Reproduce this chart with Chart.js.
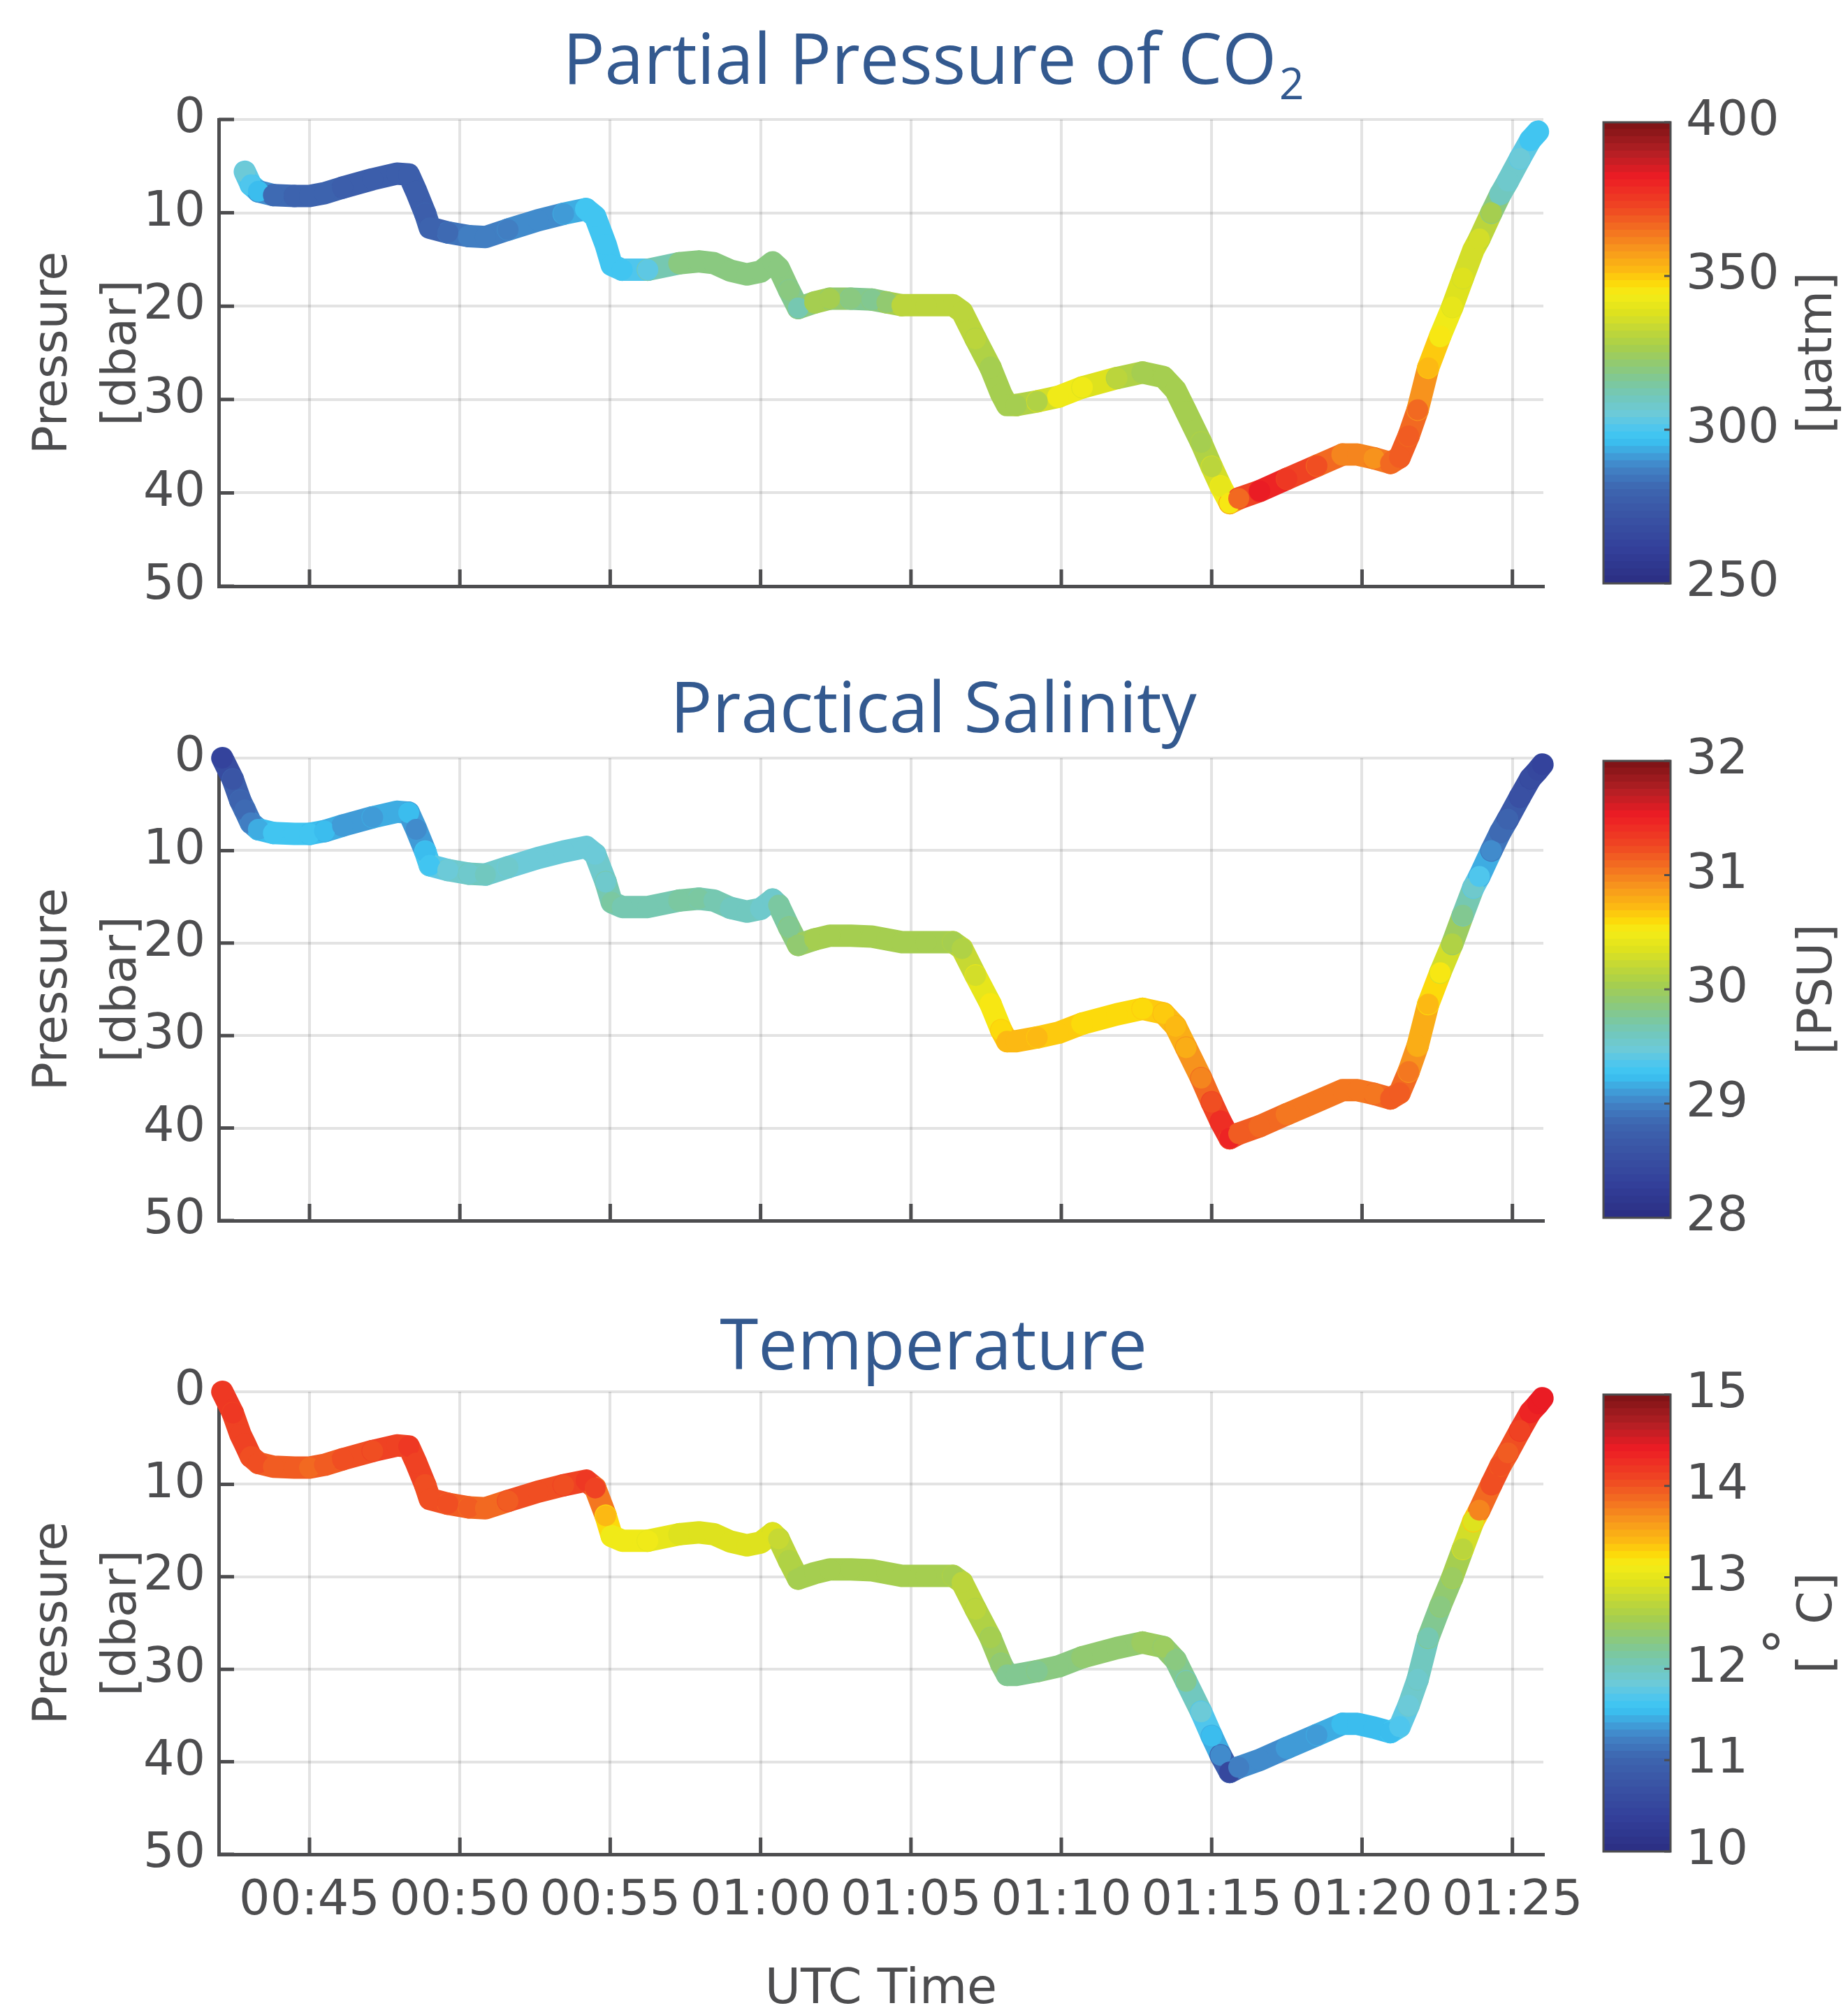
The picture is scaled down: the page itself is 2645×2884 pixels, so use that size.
<!DOCTYPE html>
<html>
<head>
<meta charset="utf-8">
<script src="https://cdn.jsdelivr.net/npm/chart.js@4.4.1/dist/chart.umd.min.js"></script>
<style>
  html, body { margin: 0; padding: 0; background: #fff; }
  body { width: 2645px; height: 2884px; position: relative; overflow: hidden; }
  canvas { position: absolute; }
</style>
</head>
<body>
<script>
// CTD cast, minutes after 00:00 UTC
const timeMin = [42.10, 42.45, 42.70, 42.85, 43.05, 43.30, 43.80, 44.50, 45.00, 45.50,
  46.10, 47.10, 47.90, 48.30, 48.55, 48.85, 49.00, 49.60, 50.30, 50.85,
  51.60, 52.60, 53.45, 54.20, 54.50, 54.85, 55.05, 55.40, 56.25, 57.30,
  57.95, 58.45, 59.00, 59.55, 60.00, 60.40, 60.60, 60.95, 61.25, 61.80,
  62.30, 63.00, 63.70, 64.20, 64.70, 65.50, 66.40, 66.70, 67.15, 67.65,
  68.00, 68.20, 68.50, 69.20, 69.90, 70.70, 71.85, 72.70, 73.40, 73.80,
  74.15, 74.65, 75.00, 75.30, 75.60, 75.90, 76.60, 77.50, 78.50, 79.35,
  79.85, 80.40, 80.95, 81.25, 81.55, 81.85, 82.20, 82.60, 83.00, 83.35,
  83.70, 83.90, 84.30, 84.60, 84.85, 85.25, 85.60, 85.85, 86.00];

const pressure = [0.0, 2.3, 4.6, 5.6, 7.0, 7.7, 8.1, 8.2, 8.2, 7.9,
  7.3, 6.4, 5.8, 5.9, 7.7, 10.1, 11.6, 12.1, 12.5, 12.6,
  11.8, 10.8, 10.1, 9.6, 10.4, 13.4, 15.6, 16.1, 16.1, 15.4,
  15.2, 15.4, 16.2, 16.6, 16.3, 15.3, 15.9, 18.3, 20.2, 19.6,
  19.2, 19.2, 19.3, 19.6, 19.9, 19.9, 19.9, 20.6, 23.5, 26.6,
  29.4, 30.6, 30.6, 30.2, 29.7, 28.7, 27.7, 27.1, 27.6, 29.0,
  31.3, 34.6, 37.2, 39.3, 41.1, 40.6, 39.8, 38.5, 37.1, 35.9,
  35.9, 36.3, 36.8, 36.2, 33.9, 31.1, 26.6, 23.2, 20.1, 17.0,
  14.0, 12.8, 10.0, 8.0, 6.6, 4.2, 2.2, 1.3, 0.7];

const salinity = [28.35, 28.6, 28.8, 28.85, 28.95, 29.15, 29.25, 29.25, 29.25, 29.2,
  29.1, 29.1, 29.15, 29.2, 29.0, 29.2, 29.3, 29.45, 29.55, 29.6,
  29.5, 29.45, 29.45, 29.45, 29.45, 29.55, 29.7, 29.65, 29.65, 29.72,
  29.72, 29.65, 29.6, 29.6, 29.55, 29.5, 29.7, 29.75, 29.9, 30.05,
  30.05, 30.05, 30.05, 30.05, 30.05, 30.05, 30.05, 30.1, 30.3, 30.5,
  30.6, 30.72, 30.72, 30.7, 30.65, 30.6, 30.58, 30.6, 30.68, 30.72,
  30.8, 30.98, 31.2, 31.4, 31.45, 31.15, 31.1, 31.05, 31.0, 31.0,
  31.0, 31.05, 31.15, 31.15, 31.0, 30.8, 30.7, 30.5, 30.1, 29.8,
  29.5, 29.35, 29.0, 28.85, 28.8, 28.55, 28.45, 28.4, 28.35];

const temperature = [14.2, 14.15, 14.1, 14.1, 14.05, 14.0, 13.95, 13.95, 13.9, 13.95,
  14.0, 14.05, 14.1, 14.15, 14.1, 14.05, 14.05, 14.0, 13.95, 13.85,
  13.95, 14.05, 14.05, 14.15, 14.1, 13.4, 13.1, 13.1, 13.05, 12.95,
  12.95, 12.95, 12.95, 12.95, 12.95, 12.95, 12.8, 12.65, 12.55, 12.55,
  12.55, 12.55, 12.55, 12.55, 12.55, 12.55, 12.55, 12.7, 12.7, 12.55,
  12.4, 12.25, 12.25, 12.25, 12.3, 12.35, 12.35, 12.45, 12.45, 12.3,
  12.2, 11.85, 11.55, 11.3, 10.5, 11.2, 11.3, 11.35, 11.4, 11.5,
  11.55, 11.55, 11.55, 11.7, 11.85, 11.95, 12.1, 12.3, 12.45, 12.7,
  12.95, 13.7, 14.05, 14.0, 13.95, 14.1, 14.3, 14.4, 14.4];

// pCO2 sensor starts/stops a little later than the CTD
const pco2 = [null, null, null, 305, 301, 296, 281, 280, 279, 279,
  278, 278, 277, 277, 277, 278, 279, 281, 286, 287,
  287, 288, 290, 297, 298, 298, 298, 297, 303, 320,
  320, 320, 320, 320, 320, 320, 320, 320, 312, 325,
  327, 318, 317, 322, 332, 332, 332, 332, 332, 327,
  327, 327, 327, 329, 343, 343, 332, 325, 325, 327,
  327, 327, 332, 340, 346, 365, 382, 376, 370, 361,
  361, 360, 365, 368, 368, 366, 352, 345, 340, 337,
  336, 335, 327, 310, 308, 306, 298, 297, null];

const timeTicks = ['00:45', '00:50', '00:55', '01:00', '01:05', '01:10', '01:15', '01:20', '01:25'];
const pressureTicks = [0, 10, 20, 30, 40, 50];
const pco2Ticks = [250, 300, 350, 400];
const salinityTicks = [28, 29, 30, 31, 32];
const temperatureTicks = [10, 11, 12, 13, 14, 15];

// colour map, position 0 = bottom of colour bar
const cmapStops = [
  [0.000, '#2b2e83'], [0.074, '#33409a'], [0.143, '#3a53a4'], [0.205, '#3d66b0'],
  [0.250, '#4283c6'], [0.281, '#40a3dc'], [0.312, '#39c5f3'], [0.335, '#4ec6ee'],
  [0.366, '#6ccad9'], [0.404, '#72c8bb'], [0.442, '#80c894'], [0.473, '#90c974'],
  [0.512, '#a8cf4c'], [0.550, '#c3d836'], [0.588, '#e0e31d'], [0.627, '#f5ec16'],
  [0.650, '#fdd90a'], [0.680, '#fcb913'], [0.726, '#f7941d'], [0.772, '#f26a21'],
  [0.818, '#ef4323'], [0.880, '#ed1c24'], [0.933, '#b41f24'], [1.000, '#7a1315']
];

const AXIS = '#4d4d4f';
const TEXT = '#4d4d4f';
const TITLE = '#33598f';
const GRID = 'rgba(0,0,0,0.11)';
const FONT = "'DejaVu Sans', sans-serif";
const TITLE_FONT = "'Open Sans', sans-serif";
const LEVELS = 64;

const T_MIN = 41.98, T_MAX = 86.03;
const PLOT_LEFT = 313, PLOT_RIGHT = 2209, MAIN_W = 2330;
const CB_LEFT = 2285, CB_W = 360, CB_BAR = 96;

const layout = [
  { top: 0, height: 900, plotTop: 171, plotBottom: 839, titleY: 120 },
  { top: 900, height: 910, plotTop: 1085, plotBottom: 1747, titleY: 1048 },
  { top: 1810, height: 1074, plotTop: 1992, plotBottom: 2654, titleY: 1960 }
];

const panels = [
  { title: 'Partial Pressure of CO', sub: '2', values: pco2, min: 250, max: 400, ticks: pco2Ticks, unit: '[µatm]' },
  { title: 'Practical Salinity', sub: '', values: salinity, min: 28, max: 32, ticks: salinityTicks, unit: '[PSU]' },
  { title: 'Temperature', sub: '', values: temperature, min: 10, max: 15, ticks: temperatureTicks, unit: '[°C]' }
];

function hexRgb(h) {
  return [1, 3, 5].map(i => parseInt(h.slice(i, i + 2), 16));
}

function cmap(t) {
  for (let i = 1; i < cmapStops.length; i++) {
    const [p1, c1] = cmapStops[i];
    if (t <= p1) {
      const [p0, c0] = cmapStops[i - 1];
      const f = (t - p0) / (p1 - p0);
      const a = hexRgb(c0), b = hexRgb(c1);
      return `rgb(${a.map((v, k) => Math.round(v + (b[k] - v) * f)).join(',')})`;
    }
  }
  return cmapStops[cmapStops.length - 1][1];
}

function colorFor(v, min, max) {
  const n = (v - min) / (max - min);
  const lvl = Math.min(LEVELS - 1, Math.max(0, Math.floor(n * LEVELS)));
  return cmap((lvl + 0.5) / LEVELS);
}

function toMinutes(s) {
  const [h, m] = s.split(':').map(Number);
  return h * 60 + m;
}

function addCanvas(left, top, w, h) {
  const c = document.createElement('canvas');
  c.width = w;
  c.height = h;
  c.style.left = left + 'px';
  c.style.top = top + 'px';
  c.style.width = w + 'px';
  c.style.height = h + 'px';
  document.body.appendChild(c);
  return c;
}

// tick marks pointing into the plot, like the original
const inwardTicks = {
  id: 'inwardTicks',
  beforeDatasetsDraw(chart) {
    const { ctx, chartArea: a, scales: { x, y } } = chart;
    ctx.save();
    ctx.strokeStyle = AXIS;
    ctx.lineWidth = 5;
    ctx.beginPath();
    x.ticks.forEach(t => {
      const px = x.getPixelForValue(t.value);
      ctx.moveTo(px, a.bottom);
      ctx.lineTo(px, a.bottom - 24);
    });
    y.ticks.forEach(t => {
      const py = y.getPixelForValue(t.value);
      ctx.moveTo(a.left, py);
      ctx.lineTo(a.left + 22, py);
    });
    ctx.stroke();
    ctx.restore();
  }
};

const panelTitle = {
  id: 'panelTitle',
  afterDraw(chart, args, o) {
    const ctx = chart.ctx;
    const size = 100;
    ctx.save();
    ctx.fillStyle = TITLE;
    ctx.textAlign = 'left';
    ctx.textBaseline = 'alphabetic';
    ctx.font = `${size}px ${TITLE_FONT}`;
    const w1 = ctx.measureText(o.text).width;
    ctx.font = `${Math.round(size * 0.62)}px ${TITLE_FONT}`;
    const w2 = o.sub ? ctx.measureText(o.sub).width + 4 : 0;
    const x0 = o.x - (w1 + w2) / 2;
    ctx.font = `${size}px ${TITLE_FONT}`;
    ctx.fillText(o.text, x0, o.y);
    if (o.sub) {
      ctx.font = `${Math.round(size * 0.62)}px ${TITLE_FONT}`;
      ctx.fillText(o.sub, x0 + w1 + 4, o.y + size * 0.22);
    }
    ctx.restore();
  }
};

// frame, small ticks and rotated unit label of a colour bar
const cbFrame = {
  id: 'cbFrame',
  afterDatasetsDraw(chart, args, o) {
    const { ctx, chartArea: a, scales: { y } } = chart;
    ctx.save();
    ctx.strokeStyle = AXIS;
    ctx.lineWidth = 3;
    ctx.strokeRect(a.left, a.top, a.right - a.left, a.bottom - a.top);
    ctx.beginPath();
    y.ticks.forEach(t => {
      const py = y.getPixelForValue(t.value);
      ctx.moveTo(a.right, py);
      ctx.lineTo(a.right - 9, py);
    });
    ctx.stroke();

    const size = 68;
    ctx.font = `${size}px ${FONT}`;
    ctx.fillStyle = TEXT;
    ctx.translate(o.x, (a.top + a.bottom) / 2);
    ctx.rotate(-Math.PI / 2);
    ctx.textBaseline = 'middle';
    ctx.textAlign = 'left';
    const parts = o.label.split(/(°)/).filter(s => s);
    const widths = parts.map(s => s === '°' ? ctx.measureText(s).width * 1.3 : ctx.measureText(s).width);
    let x = -widths.reduce((s, w) => s + w, 0) / 2;
    parts.forEach((s, i) => {
      if (s === '°') {
        ctx.save();
        ctx.font = `${Math.round(size * 1.15)}px ${FONT}`;
        ctx.fillText(s, x, -size * 0.62);
        ctx.restore();
      } else {
        ctx.fillText(s, x, 0);
      }
      x += widths[i];
    });
    ctx.restore();
  }
};

function mainChart(i, p) {
  const L = layout[i];
  const last = i === layout.length - 1;
  const canvas = addCanvas(0, L.top, MAIN_W, L.height);
  const pts = [];
  timeMin.forEach((t, k) => {
    if (p.values[k] !== null) pts.push({ x: t, y: pressure[k], v: p.values[k] });
  });
  const col = v => colorFor(v, p.min, p.max);

  return new Chart(canvas, {
    type: 'line',
    data: {
      datasets: [{
        data: pts,
        borderColor: col(pts[0].v),
        borderWidth: 32,
        borderCapStyle: 'round',
        borderJoinStyle: 'round',
        segment: {
          borderColor: s => col((pts[s.p0DataIndex].v + pts[s.p1DataIndex].v) / 2),
          borderWidth: 32
        },
        pointRadius: 15,
        pointBorderWidth: 0,
        pointBackgroundColor: c => c.raw ? col(c.raw.v) : '#888',
        pointBorderColor: c => c.raw ? col(c.raw.v) : '#888',
        tension: 0,
        clip: false
      }]
    },
    options: {
      responsive: false,
      animation: false,
      devicePixelRatio: 1,
      layout: { padding: { top: L.plotTop - L.top, right: MAIN_W - PLOT_RIGHT, left: 0, bottom: 0 } },
      plugins: {
        legend: { display: false },
        tooltip: { enabled: false },
        panelTitle: { text: p.title, sub: p.sub, x: 1336, y: L.titleY - L.top }
      },
      scales: {
        x: {
          type: 'linear',
          min: T_MIN,
          max: T_MAX,
          afterBuildTicks: s => { s.ticks = timeTicks.map(t => ({ value: toMinutes(t) })); },
          afterFit: s => { s.height = L.height - (L.plotBottom - L.top); },
          grid: { color: GRID, lineWidth: 4, drawTicks: false },
          border: { display: true, color: AXIS, width: 5 },
          ticks: {
            display: last,
            padding: 26,
            maxRotation: 0,
            autoSkip: false,
            color: TEXT,
            font: { family: FONT, size: 70 },
            callback: (v, k) => timeTicks[k]
          },
          title: {
            display: last,
            text: 'UTC Time',
            color: TEXT,
            font: { family: FONT, size: 70, lineHeight: 1 },
            padding: 0
          }
        },
        y: {
          reverse: true,
          min: 0,
          max: 50,
          afterBuildTicks: s => { s.ticks = pressureTicks.map(value => ({ value })); },
          afterFit: s => { s.width = PLOT_LEFT; },
          grid: { color: GRID, lineWidth: 4, drawTicks: false },
          border: { display: true, color: AXIS, width: 5 },
          ticks: { padding: 19, color: TEXT, font: { family: FONT, size: 70 } },
          title: {
            display: true,
            text: ['Pressure', '[dbar]'],
            color: TEXT,
            font: { family: FONT, size: 68, lineHeight: 1.45 },
            padding: { top: 28, bottom: 0 }
          }
        }
      }
    },
    plugins: [inwardTicks, panelTitle]
  });
}

function colorbar(i, p) {
  const L = layout[i];
  const padV = 60;
  const canvas = addCanvas(CB_LEFT, L.plotTop - padV, CB_W, L.plotBottom - L.plotTop + 2 * padV);
  const step = (p.max - p.min) / LEVELS;
  const bands = [];
  for (let k = 0; k < LEVELS; k++) {
    bands.push({
      data: [[p.min + k * step, p.min + (k + 1) * step + step * 0.05]],
      backgroundColor: cmap((k + 0.5) / LEVELS),
      borderWidth: 0,
      grouped: false,
      barPercentage: 1,
      categoryPercentage: 1
    });
  }
  return new Chart(canvas, {
    type: 'bar',
    data: { labels: [''], datasets: bands },
    options: {
      responsive: false,
      animation: false,
      devicePixelRatio: 1,
      layout: { padding: { left: 10, top: padV, bottom: padV, right: 0 } },
      plugins: {
        legend: { display: false },
        tooltip: { enabled: false },
        cbFrame: { label: p.unit, x: 2603 - CB_LEFT }
      },
      scales: {
        x: { display: false },
        y: {
          position: 'right',
          min: p.min,
          max: p.max,
          afterBuildTicks: s => { s.ticks = p.ticks.map(value => ({ value })); },
          afterFit: s => { s.width = CB_W - 10 - CB_BAR; },
          grid: { display: false, drawTicks: false },
          border: { display: false },
          ticks: { padding: 22, color: TEXT, font: { family: FONT, size: 70 } }
        }
      }
    },
    plugins: [cbFrame]
  });
}

panels.forEach((p, i) => {
  mainChart(i, p);
  colorbar(i, p);
});
</script>
</body>
</html>
